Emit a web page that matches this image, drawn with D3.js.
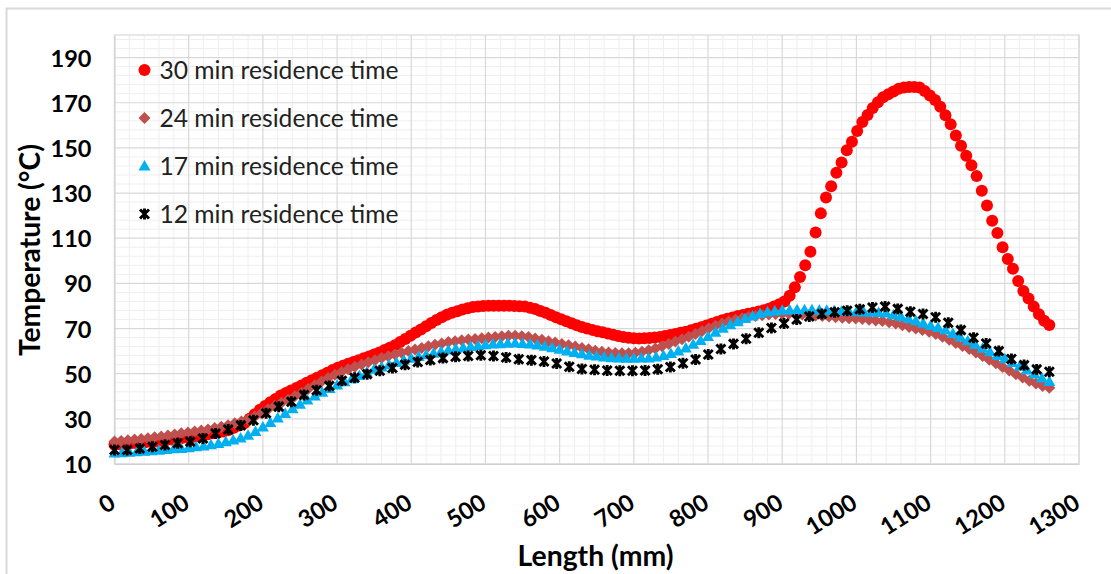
<!DOCTYPE html>
<html><head><meta charset="utf-8">
<script src="https://cdn.jsdelivr.net/npm/d3@7"></script>
<style>body{margin:0;background:#fff}svg{display:block}</style>
</head><body><svg id="c" width="1111" height="574"></svg>
<script>
const seriesNames = ["30 min residence time","24 min residence time","17 min residence time","12 min residence time"];
const lengthMax = 1260;
const xTicks = [0,100,200,300,400,500,600,700,800,900,1000,1100,1200,1300];
const yTicks = [10,30,50,70,90,110,130,150,170,190];
const xTitle = "Length (mm)";
const yTitle = "Temperature (°C)";

const temp30 = [
18.5,18.7,18.9,19.1,19.3,19.4,19.6,19.8,20.0,20.3,
20.6,20.9,21.2,21.5,21.7,22.0,22.4,22.8,23.2,23.6,
24.0,24.4,25.0,26.0,27.0,28.0,30.0,32.0,34.0,35.7,
37.3,38.8,40.3,41.5,42.6,43.7,44.8,46.0,47.1,48.2,
49.3,50.4,51.6,52.6,53.5,54.4,55.2,56.0,56.8,57.6,
58.5,59.4,60.5,61.5,62.6,64.0,65.4,66.8,68.2,69.6,
71.0,72.4,73.8,75.0,76.1,77.0,77.7,78.4,79.0,79.5,
79.8,80.0,80.1,80.1,80.1,80.1,80.1,80.0,79.9,79.7,
79.2,78.6,77.8,77.0,76.0,75.0,74.1,73.2,72.3,71.5,
70.7,70.0,69.4,68.8,68.3,67.8,67.2,66.7,66.2,65.9,
65.7,65.6,65.7,65.8,66.0,66.3,66.7,67.1,67.6,68.1,
68.6,69.2,69.9,70.6,71.3,72.1,72.9,73.7,74.3,74.9,
75.5,76.0,76.5,77.0,77.5,78.1,78.8,79.8,80.8,82.0,
84.5,88.3,92.8,98.0,104.0,112.5,121.0,128.0,133.0,139.0,
143.5,149.0,152.7,157.5,161.5,164.6,167.7,170.2,172.4,173.8,
175.0,176.2,176.8,177.0,177.0,176.8,175.2,173.2,171.2,168.2,
164.5,160.5,155.5,151.0,146.5,142.3,137.5,131.0,124.5,117.7,
112.3,106.0,100.8,96.5,91.0,86.6,83.3,79.7,76.3,73.4,
71.6];

const temp24 = [
20.0,20.2,20.5,20.8,21.1,21.4,21.8,22.2,22.6,23.1,
23.6,24.0,24.4,24.8,25.3,25.9,26.5,27.2,28.0,28.8,
29.8,31.0,32.5,34.2,35.7,37.1,38.5,40.0,41.5,43.2,
44.9,46.5,48.1,49.5,50.8,52.0,53.1,54.1,55.1,56.0,
56.9,57.7,58.5,59.3,60.0,60.7,61.4,62.1,62.8,63.4,
64.0,64.4,64.8,65.1,65.4,65.7,66.0,66.3,66.6,66.8,
66.8,66.6,66.2,65.6,65.0,64.4,63.8,63.2,62.6,62.0,
61.4,60.8,60.2,59.7,59.4,59.2,59.1,59.1,59.3,59.7,
60.4,61.2,62.1,63.1,64.2,65.3,66.4,67.6,68.9,70.1,
71.2,72.2,73.1,73.9,74.6,75.2,75.6,75.9,76.2,76.4,
76.5,76.5,76.4,76.2,76.0,75.8,75.6,75.3,75.0,74.8,
74.6,74.4,74.2,73.9,73.6,73.3,72.8,72.2,71.5,70.7,
70.0,69.3,68.6,67.6,66.4,65.0,63.6,62.3,60.9,59.4,
57.8,56.2,54.6,53.0,51.4,49.8,48.3,46.9,45.7,44.6,
43.8];

const temp17 = [
14.9,15.0,15.2,15.4,15.6,15.9,16.1,16.4,16.7,16.9,
17.2,17.6,18.0,18.5,19.1,19.8,20.6,21.5,22.7,24.4,
26.4,28.4,30.4,32.4,34.5,36.5,38.3,40.1,41.8,43.4,
45.0,46.4,47.8,49.2,50.6,52.0,53.0,54.0,55.0,55.9,
56.8,57.6,58.4,59.1,59.8,60.5,61.0,61.5,62.0,62.4,
62.8,63.1,63.3,63.5,63.6,63.4,63.2,62.7,62.2,61.5,
60.8,60.1,59.4,58.8,58.2,57.8,57.4,57.1,56.9,56.8,
56.8,56.9,57.0,57.4,58.0,58.9,60.0,61.4,63.0,64.7,
66.5,68.3,70.1,71.7,73.0,74.4,75.6,76.6,77.3,77.8,
78.1,78.2,78.3,78.3,78.3,78.2,78.1,77.9,77.7,77.5,
77.4,77.3,77.2,77.1,76.9,76.1,75.3,74.4,73.4,72.3,
71.3,70.4,69.3,67.8,66.3,64.6,62.9,61.3,59.7,58.1,
56.6,55.0,53.3,51.6,49.9,48.1,46.5];

const temp12 = [
16.2,16.2,16.9,17.6,18.4,19.2,19.9,21.3,23.5,25.3,
27.1,29.4,32.5,35.4,37.6,40.6,42.7,44.6,46.9,48.2,
49.8,51.3,52.5,54.0,55.2,56.1,56.9,57.5,57.8,58.2,
57.8,57.2,56.4,56.0,55.4,54.5,53.1,52.1,51.7,51.4,
51.3,51.3,51.4,52.0,53.0,54.6,56.3,58.5,60.9,63.2,
65.5,68.1,70.2,72.2,74.0,75.3,76.4,77.2,77.9,78.5,
79.3,79.7,78.7,77.4,76.4,75.0,72.6,69.3,65.9,63.4,
60.0,56.5,53.8,51.9,50.9];

const seriesValues = [temp30, temp24, temp17, temp12];
const colors = ["#FF0000", "#C0504D", "#00B0F0", "#000000"];
const shapes = ["circle", "diamond", "triangle", "star"];

const FONT = "Lato, 'Liberation Sans', sans-serif";
const svg = d3.select("#c");

// chart border
svg.append("rect").attr("x", 6.5).attr("y", 8.5).attr("width", 1200).attr("height", 700)
  .attr("fill", "#fff").attr("stroke", "#d9d9d9").attr("stroke-width", 2);

const x = d3.scaleLinear().domain([0, 1300]).range([114.5, 1079]);
const y = d3.scaleLinear().domain([10, 200]).range([464, 35]);

// minor gridlines
const g = svg.append("g");
g.selectAll(".mx").data(d3.range(0, 1301, 20).filter(v => v % 100 !== 0)).join("line")
  .attr("x1", d => x(d)).attr("x2", d => x(d)).attr("y1", y(10)).attr("y2", y(200))
  .attr("stroke", "#efefef").attr("stroke-width", 1);
g.selectAll(".my").data(d3.range(14, 200, 4).filter(v => (v - 10) % 20 !== 0)).join("line")
  .attr("y1", d => y(d)).attr("y2", d => y(d)).attr("x1", x(0)).attr("x2", x(1300))
  .attr("stroke", "#efefef").attr("stroke-width", 1);
// major gridlines
g.selectAll(".Mx").data(xTicks).join("line")
  .attr("x1", d => x(d)).attr("x2", d => x(d)).attr("y1", y(10)).attr("y2", y(200))
  .attr("stroke", "#d9d9d9").attr("stroke-width", 1.2);
g.selectAll(".My").data(yTicks).join("line")
  .attr("y1", d => y(d)).attr("y2", d => y(d)).attr("x1", x(0)).attr("x2", x(1300))
  .attr("stroke", "#d9d9d9").attr("stroke-width", 1.2);
g.append("rect").attr("x", x(0)).attr("y", y(200)).attr("width", x(1300) - x(0)).attr("height", y(10) - y(200))
  .attr("fill", "none").attr("stroke", "#d9d9d9").attr("stroke-width", 1.2);

// axes
const yAxis = svg.append("g").attr("transform", `translate(${x(0)},0)`)
  .call(d3.axisLeft(y).tickValues(yTicks).tickSize(0).tickPadding(23));
yAxis.select(".domain").attr("stroke", "#d0d0d0");
yAxis.selectAll("text").attr("font-family", FONT).attr("font-weight", "bold").attr("font-size", 24)
  .attr("fill", "#000").attr("dy", "0.36em");

const xAxis = svg.append("g").attr("transform", `translate(0,${y(10)})`)
  .call(d3.axisBottom(x).tickValues(xTicks).tickSize(0).tickFormat(d3.format("d")));
xAxis.select(".domain").attr("stroke", "#d0d0d0");
xAxis.selectAll("text").attr("font-family", FONT).attr("font-weight", "bold").attr("font-size", 24)
  .attr("fill", "#000").attr("y", 0).attr("dy", 0).attr("text-anchor", "end")
  .attr("transform", "translate(2,43) rotate(-32)");

// fit tick font size to reference width of "190" (41px)
(function () {
  const t = yAxis.selectAll("text").filter(d => d === 190).node();
  const w = t.getComputedTextLength();
  const fs = 24 * 41 / w;
  yAxis.selectAll("text").attr("font-size", fs);
  xAxis.selectAll("text").attr("font-size", fs);
})();

// markers
function shapePath(s) {
  if (s === "circle") return d3.symbol(d3.symbolCircle, Math.PI * 6 * 6)();
  if (s === "diamond") return "M0,-6L6,0L0,6L-6,0Z";
  if (s === "triangle") return "M0,-6L6,4.5L-6,4.5Z";
  return "M-4.5,-4.5L4.5,4.5M-4.5,4.5L4.5,-4.5M0,-5.5L0,5.5";
}
seriesValues.forEach((vals, si) => {
  const n = vals.length;
  const step = lengthMax / (n - 1);
  const pts = vals.map((v, i) => ({ x: i * step, y: v }));
  const sg = svg.append("g");
  const s = shapes[si];
  sg.selectAll("path").data(pts).join("path")
    .attr("transform", d => `translate(${x(d.x)},${y(d.y)})`)
    .attr("d", shapePath(s))
    .attr("fill", s === "star" ? "none" : colors[si])
    .attr("stroke", s === "star" ? colors[si] : "none")
    .attr("stroke-width", s === "star" ? 2.9 : 0);
});

// legend
const lg = svg.append("g");
const legY = [70, 118, 166, 214];
seriesNames.forEach((name, i) => {
  const s = shapes[i];
  lg.append("path").attr("transform", `translate(144.5,${legY[i]})`).attr("d", shapePath(s))
    .attr("fill", s === "star" ? "none" : colors[i])
    .attr("stroke", s === "star" ? colors[i] : "none")
    .attr("stroke-width", s === "star" ? 2.9 : 0);
  lg.append("text").attr("class", "legt").attr("x", 159.5).attr("y", legY[i] + 9)
    .attr("font-family", FONT).attr("font-size", 24).attr("fill", "#222").text(name);
});
(function () {
  const t = lg.select(".legt").node();
  const w = t.getComputedTextLength();
  lg.selectAll(".legt").attr("font-size", 24 * 239 / w);
})();

// axis titles
const yt = svg.append("text").attr("transform", "translate(40,250) rotate(-90)")
  .attr("text-anchor", "middle").attr("font-family", FONT).attr("font-weight", "bold")
  .attr("font-size", 24).attr("fill", "#000").text(yTitle);
yt.attr("font-size", 24 * 212 / yt.node().getComputedTextLength());
const xt = svg.append("text").attr("x", 595.5).attr("y", 566)
  .attr("text-anchor", "middle").attr("font-family", FONT).attr("font-weight", "bold")
  .attr("font-size", 24).attr("fill", "#000").text(xTitle);
xt.attr("font-size", 24 * 156 / xt.node().getComputedTextLength());
</script>
</body></html>
